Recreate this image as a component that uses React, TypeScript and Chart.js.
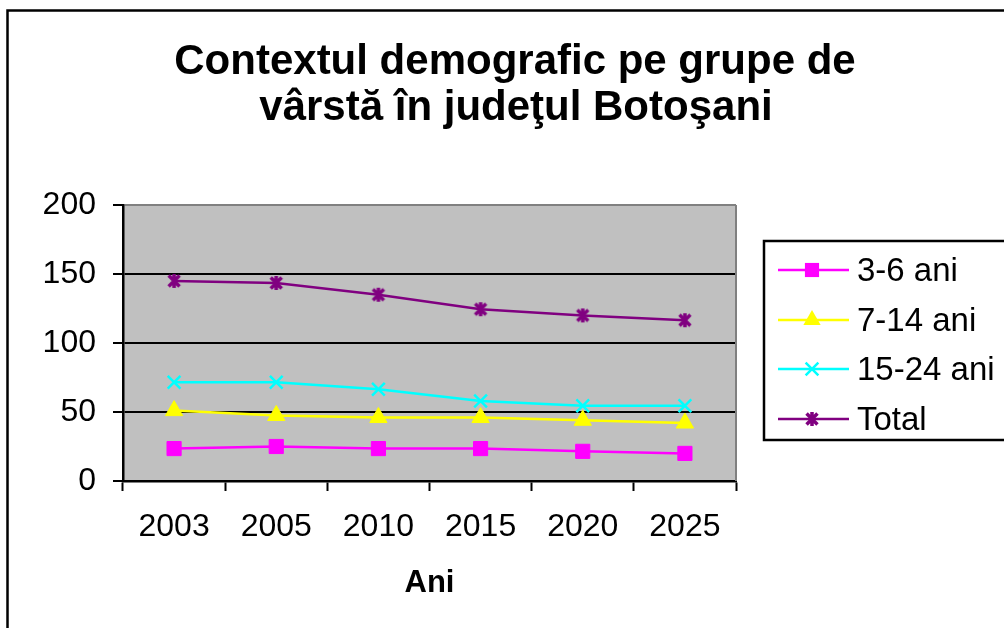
import React, { useEffect, useRef } from "react";
import { Chart, registerables } from "chart.js";

Chart.register(...registerables);

const years = ["2003", "2005", "2010", "2015", "2020", "2025"];
const ages3to6 = [23.5, 25, 23.5, 23.5, 21.5, 20];
const ages7to14 = [51, 47.5, 46, 46, 44, 42];
const ages15to24 = [71.5, 71.5, 66.5, 58, 54.5, 54.5];
const totalValues = [145, 143.5, 135, 124.5, 120, 116.5];
const seriesNames = ["3-6 ani", "7-14 ani", "15-24 ani", "Total"];
const yTicks = [0, 50, 100, 150, 200];
const titleLines = ["Contextul demografic pe grupe de", "vârstă în judeţul Botoşani"];
const xAxisTitle = "Ani";

const FONT = '"Liberation Sans", Arial, sans-serif';

function makeAsterisk(color: string, size = 18, lw = 3.5) {
  const c = document.createElement("canvas");
  c.width = size;
  c.height = size;
  const g = c.getContext("2d")!;
  g.strokeStyle = color;
  g.lineWidth = lw;
  const m = size / 2;
  const r = size / 2 - 2;
  const d = r * 0.78;
  g.beginPath();
  g.moveTo(m, m - r);
  g.lineTo(m, m + r);
  g.moveTo(m - d, m - d);
  g.lineTo(m + d, m + d);
  g.moveTo(m + d, m - d);
  g.lineTo(m - d, m + d);
  g.stroke();
  return c;
}

function drawMarker(ctx: CanvasRenderingContext2D, ds: any, x: number, y: number) {
  const style = ds.pointStyle;
  ctx.save();
  ctx.fillStyle = ds.pointBackgroundColor;
  ctx.strokeStyle = ds.pointBorderColor;
  ctx.lineWidth = ds.pointBorderWidth;
  const r = ds.pointRadius;
  if (style === "rect") {
    const s = Math.SQRT1_2 * r;
    ctx.fillRect(x - s, y - s, 2 * s, 2 * s);
  } else if (style === "triangle") {
    ctx.beginPath();
    let a = 0;
    ctx.moveTo(x + Math.sin(a) * r, y - Math.cos(a) * r);
    a += (2 * Math.PI) / 3;
    ctx.lineTo(x + Math.sin(a) * r, y - Math.cos(a) * r);
    a += (2 * Math.PI) / 3;
    ctx.lineTo(x + Math.sin(a) * r, y - Math.cos(a) * r);
    ctx.closePath();
    ctx.fill();
  } else if (style === "crossRot") {
    const o = Math.cos(Math.PI / 4) * r;
    ctx.beginPath();
    ctx.moveTo(x - o, y - o);
    ctx.lineTo(x + o, y + o);
    ctx.moveTo(x + o, y - o);
    ctx.lineTo(x - o, y + o);
    ctx.stroke();
  } else if (style instanceof HTMLCanvasElement) {
    ctx.drawImage(style, x - style.width / 2, y - style.height / 2);
  }
  ctx.restore();
}

const decorPlugin = {
  id: "decor",
  beforeDraw(chart: any) {
    const { ctx, chartArea: a } = chart;
    ctx.save();
    ctx.fillStyle = "#ffffff";
    ctx.fillRect(0, 0, chart.width, chart.height);
    ctx.fillStyle = "#C0C0C0";
    ctx.fillRect(a.left, a.top, a.right - a.left, a.bottom - a.top);
    ctx.restore();
  },
  beforeDatasetsDraw(chart: any) {
    const { ctx, chartArea: a } = chart;
    ctx.save();
    ctx.strokeStyle = "#808080";
    ctx.lineWidth = 2;
    ctx.beginPath();
    ctx.moveTo(a.right, a.top);
    ctx.lineTo(a.right, a.bottom);
    ctx.stroke();
    ctx.restore();
  },
  afterDraw(chart: any) {
    const { ctx, chartArea: a } = chart;
    ctx.save();
    // outer frame
    ctx.strokeStyle = "#000";
    ctx.lineWidth = 2.5;
    ctx.strokeRect(7.5, 10.5, 1020, 650);
    // title
    ctx.fillStyle = "#000";
    ctx.font = `bold 42px ${FONT}`;
    ctx.textAlign = "center";
    ctx.textBaseline = "alphabetic";
    ctx.fillText(titleLines[0], 515, 74);
    ctx.fillText(titleLines[1], 516, 120);
    // x axis title
    ctx.font = `bold 31px ${FONT}`;
    ctx.fillText(xAxisTitle, (a.left + a.right) / 2, 592);
    // legend
    ctx.lineWidth = 2.5;
    ctx.strokeRect(764, 241, 300, 199);
    const rows = [270, 320, 369, 419];
    ctx.font = `33px ${FONT}`;
    ctx.textAlign = "left";
    ctx.textBaseline = "middle";
    chart.data.datasets.forEach((ds: any, i: number) => {
      const y = rows[i];
      ctx.strokeStyle = ds.borderColor;
      ctx.lineWidth = ds.borderWidth;
      ctx.beginPath();
      ctx.moveTo(778, y);
      ctx.lineTo(849, y);
      ctx.stroke();
      drawMarker(ctx, ds, 812, y);
      ctx.fillStyle = "#000";
      ctx.fillText(ds.label, 857, y + 2);
    });
    ctx.restore();
  },
};

export default function App() {
  const ref = useRef<HTMLCanvasElement | null>(null);
  useEffect(() => {
    if (!ref.current) return;
    const asterisk = makeAsterisk("#800080");
    const mk = (label: string, data: number[], color: string, style: any, radius: number) => ({
      label,
      data,
      borderColor: color,
      backgroundColor: color,
      borderWidth: 2.5,
      pointStyle: style,
      pointRadius: radius,
      pointHoverRadius: radius,
      pointBackgroundColor: color,
      pointBorderColor: color,
      pointBorderWidth: style === "crossRot" ? 2.5 : 1,
      tension: 0,
    });
    const chart = new Chart(ref.current, {
      type: "line",
      data: {
        labels: years,
        datasets: [
          mk(seriesNames[0], ages3to6, "#FF00FF", "rect", 10),
          mk(seriesNames[1], ages7to14, "#FFFF00", "triangle", 10),
          mk(seriesNames[2], ages15to24, "#00FFFF", "crossRot", 9),
          mk(seriesNames[3], totalValues, "#800080", asterisk, 9),
        ],
      },
      options: {
        animation: false,
        responsive: false,
        events: [],
        layout: { padding: { left: 0, top: 205, right: 268, bottom: 0 } },
        plugins: { legend: { display: false }, tooltip: { enabled: false }, title: { display: false } },
        scales: {
          x: {
            type: "category",
            offset: true,
            afterFit: (s: any) => {
              s.height = 147;
            },
            grid: {
              offset: true,
              drawOnChartArea: false,
              drawTicks: true,
              tickLength: 10,
              tickColor: "#000",
              tickWidth: 2,
            },
            border: { color: "#000", width: 2.5 },
            ticks: {
              color: "#000",
              font: { family: FONT, size: 32 },
              padding: 17,
              maxRotation: 0,
            },
          },
          y: {
            min: 0,
            max: 200,
            afterFit: (s: any) => {
              s.width = 123;
            },
            afterBuildTicks: (s: any) => {
              s.ticks = yTicks.map((v) => ({ value: v }));
            },
            grid: {
              color: (c: any) => (c.tick && c.tick.value === 200 ? "#808080" : "#000"),
              lineWidth: 2,
              drawTicks: true,
              tickLength: 10,
              tickColor: "#000",
              tickWidth: 2,
            },
            border: { color: "#000", width: 2.5 },
            ticks: {
              color: "#000",
              font: { family: FONT, size: 32 },
              padding: 17,
            },
          },
        },
      },
      plugins: [decorPlugin],
    });
    return () => chart.destroy();
  }, []);
  return (
    <div style={{ position: "absolute", left: 0, top: 0, width: 1004, height: 628 }}>
      <canvas ref={ref} width={1004} height={628} style={{ width: 1004, height: 628, display: "block" }} />
    </div>
  );
}
